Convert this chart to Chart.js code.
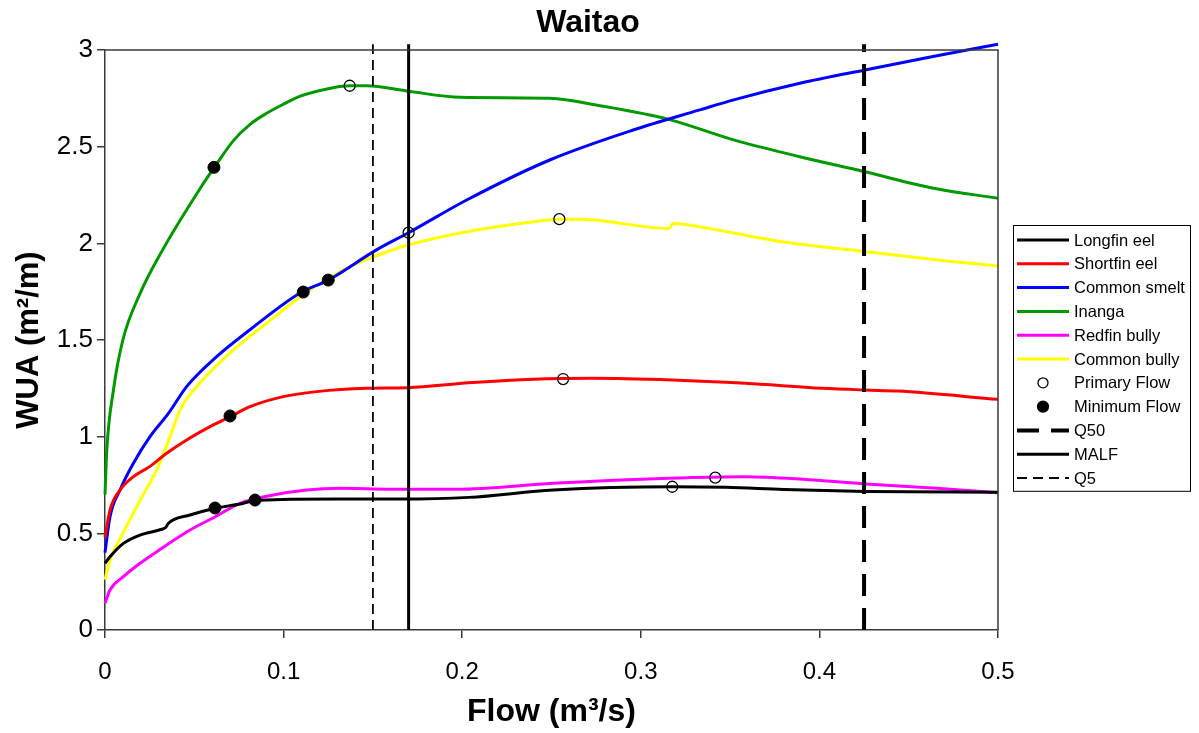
<!DOCTYPE html>
<html>
<head>
<meta charset="utf-8">
<title>Waitao</title>
<script src="https://cdn.jsdelivr.net/npm/chart.js@4.4.1/dist/chart.umd.min.js"></script>
<style>
  html, body { margin: 0; padding: 0; background: #fff; }
  #chart { display: block; }
</style>
</head>
<body>
<canvas id="chart" width="1199" height="733"></canvas>
<script>
const chartTitle = 'Waitao';
const xTitle = 'Flow (m\u00b3/s)';
const yTitle = 'WUA (m\u00b2/m)';

const xTicks = [0, 0.1, 0.2, 0.3, 0.4, 0.5];
const xTickLabels = ['0', '0.1', '0.2', '0.3', '0.4', '0.5'];
const yTicks = [0, 0.5, 1, 1.5, 2, 2.5, 3];
const yTickLabels = ['0', '0.5', '1', '1.5', '2', '2.5', '3'];

// WUA curves (flow in m3/s, WUA in m2/m)
const longfinFlow = [0, 0.0028, 0.0103, 0.0196, 0.0317, 0.034, 0.0355, 0.0476, 0.0618, 0.0756, 0.084, 0.1036, 0.1316, 0.165, 0.2038, 0.251, 0.3176, 0.3477, 0.38, 0.426, 0.5];
const longfinWua = [0.345, 0.379, 0.448, 0.491, 0.521, 0.53, 0.552, 0.595, 0.63, 0.652, 0.67, 0.676, 0.678, 0.677, 0.686, 0.724, 0.741, 0.738, 0.727, 0.717, 0.712];

const shortfinFlow = [0, 0.0028, 0.0084, 0.0159, 0.025, 0.0345, 0.0457, 0.0588, 0.07, 0.0812, 0.0998, 0.1185, 0.1465, 0.169, 0.206, 0.24, 0.2726, 0.3176, 0.3585, 0.4015, 0.426, 0.444, 0.5];
const shortfinWua = [0.48, 0.62, 0.724, 0.793, 0.845, 0.914, 0.983, 1.052, 1.103, 1.155, 1.207, 1.233, 1.25, 1.253, 1.28, 1.297, 1.302, 1.293, 1.276, 1.25, 1.241, 1.236, 1.193];

const smeltFlow = [0, 0.0028, 0.0084, 0.0159, 0.0252, 0.0355, 0.0457, 0.0625, 0.081, 0.109, 0.125, 0.152, 0.17, 0.2025, 0.249, 0.2957, 0.333, 0.352, 0.389, 0.4255, 0.4636, 0.5];
const smeltWua = [0.4, 0.586, 0.724, 0.862, 1.0, 1.12, 1.259, 1.414, 1.552, 1.742, 1.81, 1.966, 2.055, 2.224, 2.431, 2.586, 2.69, 2.742, 2.828, 2.897, 2.966, 3.03];

const inangaFlow = [0, 0.001, 0.0047, 0.01, 0.0196, 0.0325, 0.053, 0.061, 0.0718, 0.0812, 0.09, 0.1, 0.109, 0.1277, 0.137, 0.1465, 0.169, 0.199, 0.249, 0.277, 0.316, 0.352, 0.389, 0.4255, 0.464, 0.5];
const inangaWua = [0.7, 0.93, 1.24, 1.5, 1.74, 1.97, 2.28, 2.39, 2.53, 2.615, 2.67, 2.72, 2.76, 2.805, 2.815, 2.815, 2.788, 2.755, 2.75, 2.712, 2.64, 2.535, 2.448, 2.37, 2.285, 2.233];

const redfinFlow = [0, 0.0028, 0.0103, 0.0196, 0.029, 0.0476, 0.0618, 0.0756, 0.0942, 0.113, 0.1316, 0.16, 0.197, 0.251, 0.3155, 0.3585, 0.3907, 0.426, 0.4658, 0.5];
const redfinWua = [0.138, 0.207, 0.276, 0.345, 0.405, 0.517, 0.586, 0.655, 0.698, 0.724, 0.733, 0.728, 0.728, 0.759, 0.785, 0.793, 0.78, 0.755, 0.733, 0.71];

const bullyFlow = [0, 0.0028, 0.01, 0.0196, 0.029, 0.0364, 0.042, 0.053, 0.0718, 0.0905, 0.111, 0.137, 0.161, 0.169, 0.2025, 0.24, 0.2544, 0.2677, 0.316, 0.318, 0.333, 0.352, 0.378, 0.4255, 0.471, 0.5];
const bullyWua = [0.26, 0.36, 0.5, 0.67, 0.83, 1.0, 1.138, 1.276, 1.448, 1.586, 1.735, 1.879, 1.966, 1.99, 2.06, 2.112, 2.125, 2.124, 2.077, 2.103, 2.086, 2.053, 2.01, 1.957, 1.909, 1.883];

// recommended flows
const primaryFlow = [0.137, 0.17, 0.2544, 0.2565, 0.3176, 0.3417];
const primaryWua = [2.815, 2.055, 2.125, 1.298, 0.741, 0.788];
const minimumFlow = [0.061, 0.0616, 0.07, 0.084, 0.111, 0.125];
const minimumWua = [2.393, 0.631, 1.107, 0.672, 1.748, 1.81];

// hydrological reference flows
const q50 = 0.425;
const malf = 0.17;
const q5 = 0.15;
const refLineWua = [0, 3.03];

const pairs = (xs, ys) => xs.map((x, i) => ({ x: x, y: ys[i] }));

function curve(label, xs, ys, color) {
  return {
    label: label,
    data: pairs(xs, ys),
    borderColor: color,
    backgroundColor: color,
    borderWidth: 3,
    pointRadius: 0,
    cubicInterpolationMode: 'monotone',
    fill: false,
    clip: false,
    order: 2,
  };
}

function refLine(label, flow, width, dash) {
  return {
    label: label,
    data: pairs([flow, flow], refLineWua),
    borderColor: '#000',
    borderWidth: width,
    borderDash: dash,
    pointRadius: 0,
    tension: 0,
    clip: false,
    order: 1,
  };
}

const datasets = [
  curve('Longfin eel', longfinFlow, longfinWua, '#000000'),
  curve('Shortfin eel', shortfinFlow, shortfinWua, '#ff0000'),
  curve('Common smelt', smeltFlow, smeltWua, '#0000ff'),
  curve('Inanga', inangaFlow, inangaWua, '#009900'),
  curve('Redfin bully', redfinFlow, redfinWua, '#ff00ff'),
  curve('Common bully', bullyFlow, bullyWua, '#ffff00'),
  {
    label: 'Primary Flow',
    data: pairs(primaryFlow, primaryWua),
    showLine: false,
    pointRadius: 5.5,
    pointBorderWidth: 1.3,
    pointBorderColor: '#000',
    pointBackgroundColor: 'rgba(0,0,0,0)',
    clip: false,
    order: 0,
  },
  {
    label: 'Minimum Flow',
    data: pairs(minimumFlow, minimumWua),
    showLine: false,
    pointRadius: 6,
    pointBorderWidth: 1,
    pointBorderColor: '#000',
    pointBackgroundColor: '#000',
    clip: false,
    order: 0,
  },
  refLine('Q50', q50, 4, [22, 12]),
  refLine('MALF', malf, 3, []),
  refLine('Q5', q5, 1.8, [10, 6]),
];

const fontFamily = '"Liberation Sans", Arial, sans-serif';
const axisColor = '#3a3a3a';

// title, top/right frame of the plot area and the boxed legend
const decorations = {
  id: 'decorations',
  afterDraw(chart) {
    const ctx = chart.ctx;
    const area = chart.chartArea;
    ctx.save();

    ctx.strokeStyle = axisColor;
    ctx.lineWidth = 1.5;
    ctx.beginPath();
    ctx.moveTo(area.left, area.top);
    ctx.lineTo(area.right, area.top);
    ctx.lineTo(area.right, area.bottom);
    ctx.stroke();

    ctx.fillStyle = '#000';
    ctx.font = 'bold 32px ' + fontFamily;
    ctx.textAlign = 'center';
    ctx.textBaseline = 'alphabetic';
    ctx.fillText(chartTitle, 588, 32);

    const left = area.right + 15;
    const top = 225;
    const rowH = 23.8;
    const sets = chart.data.datasets;
    ctx.strokeStyle = '#000';
    ctx.lineWidth = 1;
    ctx.strokeRect(left + 0.5, top + 0.5, 177, sets.length * rowH + 4);

    ctx.font = '16.5px ' + fontFamily;
    ctx.textAlign = 'left';
    ctx.textBaseline = 'middle';
    sets.forEach((ds, i) => {
      const y = top + 15 + i * rowH;
      const x0 = left + 4;
      const x1 = left + 56;
      if (ds.showLine === false) {
        ctx.beginPath();
        ctx.arc((x0 + x1) / 2, y, ds.pointRadius - 0.5, 0, Math.PI * 2);
        ctx.fillStyle = ds.pointBackgroundColor;
        ctx.fill();
        ctx.lineWidth = 1.3;
        ctx.strokeStyle = '#000';
        ctx.stroke();
      } else {
        ctx.beginPath();
        ctx.setLineDash(ds.borderDash || []);
        ctx.moveTo(x0, y);
        ctx.lineTo(x1, y);
        ctx.lineWidth = Math.min(ds.borderWidth, 4);
        ctx.strokeStyle = ds.borderColor;
        ctx.stroke();
        ctx.setLineDash([]);
      }
      ctx.fillStyle = '#000';
      ctx.fillText(ds.label, left + 61, y + 1);
    });
    ctx.restore();
  },
};

new Chart(document.getElementById('chart'), {
  type: 'line',
  data: { datasets: datasets },
  plugins: [decorations],
  options: {
    responsive: false,
    animation: false,
    layout: { padding: { top: 50, right: 201, left: 0, bottom: 0 } },
    plugins: {
      legend: { display: false },
      title: { display: false },
      tooltip: { enabled: false },
    },
    scales: {
      x: {
        type: 'linear',
        min: 0,
        max: 0.5,
        afterFit: (scale) => { scale.height = 103; },
        ticks: {
          stepSize: 0.1,
          padding: 20,
          color: '#000',
          font: { family: fontFamily, size: 24 },
          maxRotation: 0,
          callback: (v) => {
            const i = xTicks.findIndex((t) => Math.abs(t - v) < 1e-9);
            return i < 0 ? '' : xTickLabels[i];
          },
        },
        grid: { drawOnChartArea: false, drawTicks: true, tickLength: 8, color: axisColor, lineWidth: 1.5 },
        border: { color: axisColor, width: 1.5 },
        title: {
          display: true,
          text: xTitle,
          color: '#000',
          font: { family: fontFamily, size: 32, weight: 'bold' },
          padding: { top: 0, bottom: 2 },
        },
      },
      y: {
        min: 0,
        max: 3,
        afterFit: (scale) => { scale.width = 105; },
        ticks: {
          stepSize: 0.5,
          padding: 4,
          color: '#000',
          font: { family: fontFamily, size: 26 },
          callback: (v) => {
            const i = yTicks.findIndex((t) => Math.abs(t - v) < 1e-9);
            return i < 0 ? '' : yTickLabels[i];
          },
        },
        grid: { drawOnChartArea: false, drawTicks: true, tickLength: 8, color: axisColor, lineWidth: 1.5 },
        border: { color: axisColor, width: 1.5 },
        title: {
          display: true,
          text: yTitle,
          color: '#000',
          font: { family: fontFamily, size: 31, weight: 'bold' },
          padding: { top: 11, bottom: 0 },
        },
      },
    },
  },
});
</script>
</body>
</html>
